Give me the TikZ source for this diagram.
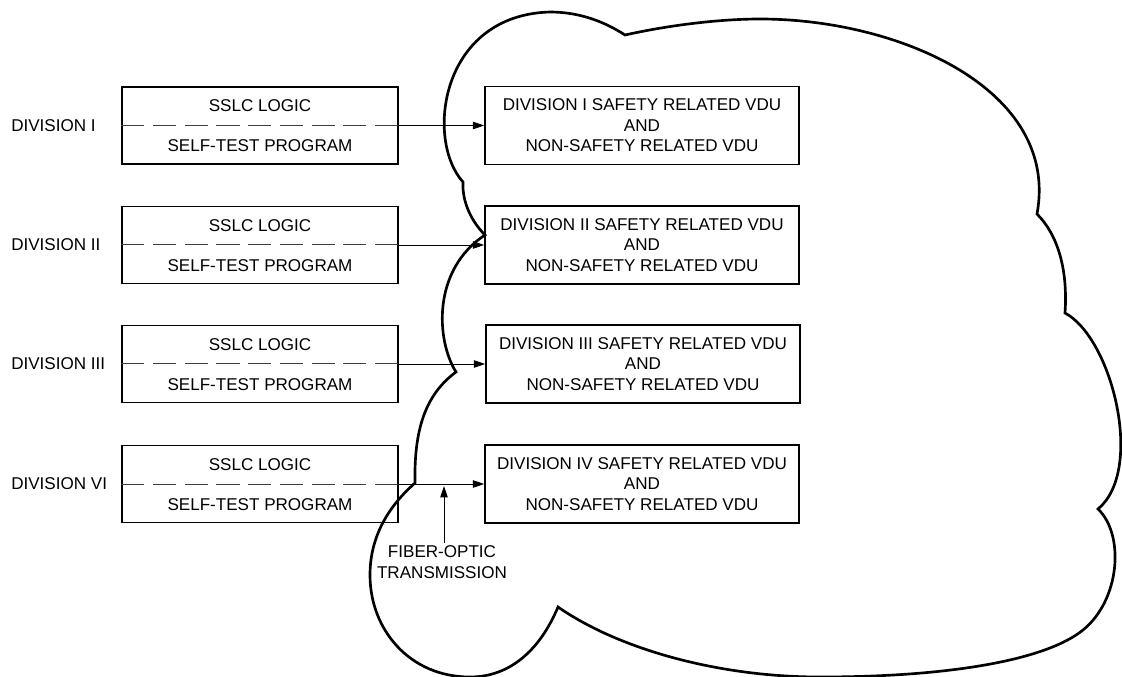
\documentclass[tikz,border=0pt]{standalone}
\usepackage{fontspec}
\setmainfont{Liberation Sans}
\usetikzlibrary{arrows.meta}

\begin{document}
\begin{tikzpicture}[x=0.75pt,y=-0.75pt,
	font=\fontsize{12.8}{15.4}\selectfont,
	sslcbox/.style={draw, line width=1.1pt, minimum width=207pt, minimum height=57.75pt, inner sep=0pt},
	vdubox/.style={draw, line width=1.1pt, minimum width=235.5pt, minimum height=58.5pt, inner sep=0pt, align=center},
	txt/.style={inner sep=0pt},
	sig/.style={line width=0.75pt, black!75, dash pattern=on 17.3pt off 6.5pt},
	arr/.style={line width=0.7pt, -{Triangle[length=8.5pt,width=5.5pt]}},
	cloud/.style={line width=2pt, miter limit=4}]

	\useasboundingbox (0,0) rectangle (1122,677);

	% the cloud
	\draw[cloud] (625,35) .. controls (670,25) and (720,19) .. (760,19)
		.. controls (900,19) and (1060,90) .. (1037,214)
		.. controls (1058,235) and (1068,270) .. (1065,313)
		.. controls (1112,338) and (1145,470) .. (1098,509)
		.. controls (1125,535) and (1120,600) .. (1083,630)
		.. controls (1046,660) and (950,677) .. (820,677)
		.. controls (720,677) and (620,650) .. (558,607)
		.. controls (540,650) and (510,677) .. (470,677)
		.. controls (410,677) and (370,630) .. (370,575)
		.. controls (370,535) and (390,505) .. (415,483)
		.. controls (414,430) and (425,395) .. (456,372)
		.. controls (436,340) and (432,270) .. (485,235)
		.. controls (470,220) and (462,200) .. (463,182)
		.. controls (425,140) and (440,15) .. (550,12)
		.. controls (580,12) and (605,22) .. (625,35) -- cycle;

	\node[sslcbox] (sslc1) at (260,125.5) {};
	\node[sslcbox] (sslc2) at (260,245) {};
	\node[sslcbox] (sslc3) at (260,364) {};
	\node[sslcbox] (sslc4) at (260,484) {};

	\node[txt] (logic1) at (260,106) {SSLC LOGIC};
	\node[txt] (logic2) at (260,225.5) {SSLC LOGIC};
	\node[txt] (logic3) at (260,344.5) {SSLC LOGIC};
	\node[txt] (logic4) at (260,464.5) {SSLC LOGIC};

	\node[txt] (test1) at (260,146) {SELF-TEST PROGRAM};
	\node[txt] (test2) at (260,265.5) {SELF-TEST PROGRAM};
	\node[txt] (test3) at (260,384.5) {SELF-TEST PROGRAM};
	\node[txt] (test4) at (260,504.5) {SELF-TEST PROGRAM};

	\node[txt, anchor=west] (div1) at (11,125.5) {DIVISION I};
	\node[txt, anchor=west] (div2) at (11,245) {DIVISION II};
	\node[txt, anchor=west] (div3) at (11,364) {DIVISION III};
	\node[txt, anchor=west] (div4) at (11,484) {DIVISION VI};

	\node[vdubox] (vdu1) at (642,125.5) {DIVISION I SAFETY RELATED VDU\\AND\\NON-SAFETY RELATED VDU};
	\node[vdubox] (vdu2) at (642,245) {DIVISION II SAFETY RELATED VDU\\AND\\NON-SAFETY RELATED VDU};
	\node[vdubox] (vdu3) at (643,364) {DIVISION III SAFETY RELATED VDU\\AND\\NON-SAFETY RELATED VDU};
	\node[vdubox] (vdu4) at (642,484) {DIVISION IV SAFETY RELATED VDU\\AND\\NON-SAFETY RELATED VDU};

	\draw[sig] (sslc1.west) -- (sslc1.east);
	\draw[sig] (sslc2.west) -- (sslc2.east);
	\draw[sig] (sslc3.west) -- (sslc3.east);
	\draw[sig] (sslc4.west) -- (sslc4.east);

	\draw[arr] (sslc1.east) -- (vdu1.west);
	\draw[arr] (sslc2.east) -- (vdu2.west);
	\draw[arr] (sslc3.east) -- (vdu3.west);
	\draw[arr] (sslc4.east) -- (vdu4.west);

	\node[align=center, inner sep=2pt] (fiber) at (442,562) {FIBER-OPTIC\\TRANSMISSION};
	\coordinate (tap) at (444,486);
	\draw[arr] (fiber.north -| tap) -- (tap);

\end{tikzpicture}
\end{document}
